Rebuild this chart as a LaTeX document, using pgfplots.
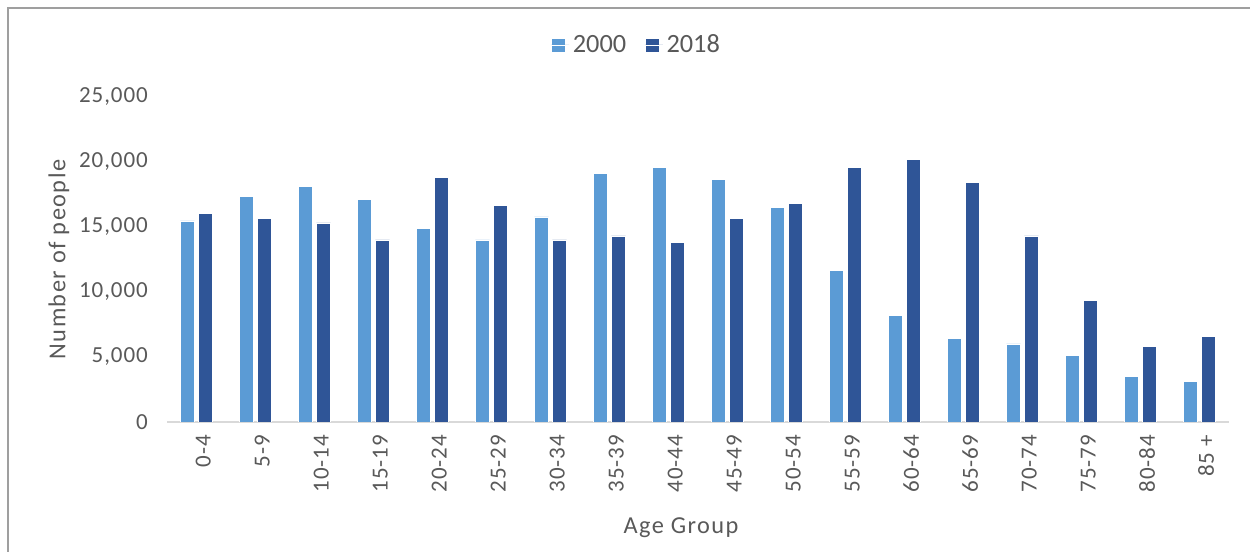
\documentclass[border=0pt]{standalone}
\usepackage{pgfplots}
\pgfplotsset{compat=1.18}
\usepackage{fontspec}
\setmainfont{Carlito}
\newfontfamily\tickfont[LetterSpace=4]{Carlito}
\newfontfamily\labfont[LetterSpace=6]{Carlito}
\definecolor{c2000}{HTML}{5B9BD5}
\definecolor{c2018}{HTML}{2F5597}
\definecolor{txt}{HTML}{595959}
\begin{document}
\begin{tikzpicture}
\path[use as bounding box] (0,0) rectangle (750pt,331.2pt);
\draw[color=gray!75, line width=1pt] (4.8pt,-2pt) -- (4.8pt,326.4pt) -- (752pt,326.4pt);
\begin{axis}[
  at={(100.2pt,78pt)}, anchor=south west,
  scale only axis, width=637.2pt, height=195pt,
  xmin=-0.5, xmax=17.5, ymin=0, ymax=25000,
  ybar, bar width=0.24,
  axis x line*=bottom, axis y line*=left,
  x axis line style={draw=black!15, line width=1pt, -},
  y axis line style={draw=none},
  xtick={0,...,17},
  xticklabels={0-4,5-9,10-14,15-19,20-24,25-29,30-34,35-39,40-44,45-49,50-54,55-59,60-64,65-69,70-74,75-79,80-84,85 +},
  xtick style={draw=none}, ytick style={draw=none},
  ytick={0,5000,10000,15000,20000,25000},
  scaled y ticks=false,
  /pgf/number format/1000 sep={,},
  /pgf/number format/assume math mode=true,
  tick label style={font=\tickfont\fontsize{13.8}{15}\selectfont, text=txt},
  xticklabel style={rotate=90, anchor=east, yshift=-4pt},
  yticklabel style={anchor=east, xshift=-8pt},
  xlabel={Age Group}, ylabel={Number of people},
  label style={font=\labfont\fontsize{14.6}{16}\selectfont, text=txt},
  xlabel style={at={(axis description cs:0.484,0)}, anchor=center, yshift=-63.6pt},
  ylabel style={at={(axis description cs:-0.1017,0.5)}, anchor=center},
  legend style={at={(axis description cs:0.4426,1)}, anchor=center, yshift=31.2pt,
    draw=none, fill=none, font=\fontsize{15.8}{17}\selectfont, text=txt,
    legend columns=2, /tikz/every even column/.append style={column sep=9pt}},
  legend image code/.code={\fill[#1] (0pt,-4.2pt) rectangle (8.4pt,4.2pt); \path (0pt,0pt) -- (10.8pt,0pt);},
]
\addplot[fill=c2000, draw=white, line width=0.4pt, bar shift=-0.153] coordinates {
(0,15470) (1,17370) (2,18130) (3,17100) (4,14880) (5,14010) (6,15770) (7,19140) (8,19570)
(9,18680) (10,16500) (11,11670) (12,8170) (13,6430) (14,6000) (15,5130) (16,3500) (17,3090)};
\addplot[fill=c2018, draw=white, line width=0.4pt, bar shift=0.153] coordinates {
(0,16070) (1,15630) (2,15310) (3,14010) (4,18840) (5,16670) (6,14010) (7,14310) (8,13840)
(9,15630) (10,16800) (11,19570) (12,20170) (13,18400) (14,14310) (15,9360) (16,5840) (17,6570)};
\legend{2000,2018}
\end{axis}
\end{tikzpicture}
\end{document}
